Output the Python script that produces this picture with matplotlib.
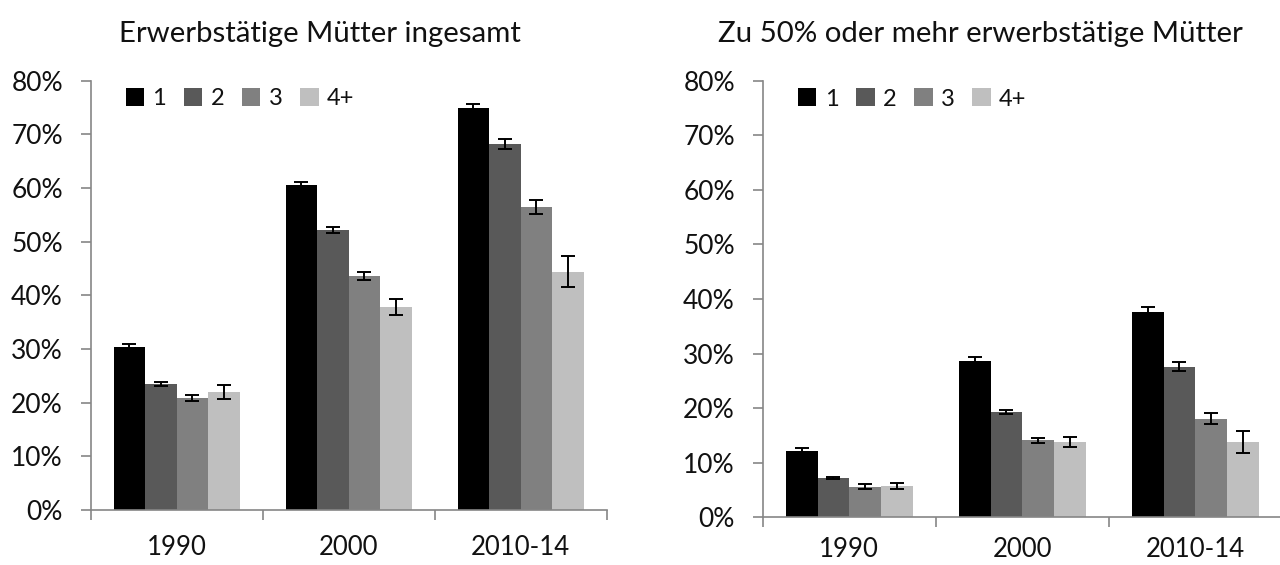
import matplotlib
matplotlib.use("Agg")
import matplotlib.pyplot as plt
from matplotlib.ticker import FuncFormatter, FixedLocator
import numpy as np

plt.rcParams['font.family'] = ['Lato', 'DejaVu Sans']

categories = ["1990", "2000", "2010-14"]
series_names = ["1", "2", "3", "4+"]
colors = ["#000000", "#595959", "#808080", "#bfbfbf"]

# Left: Erwerbstätige Mütter insgesamt (percent)
left_1 = [30.4, 60.6, 74.9]
left_2 = [23.5, 52.1, 68.2]
left_3 = [20.9, 43.6, 56.5]
left_4 = [22.0, 37.9, 44.4]
left_err_1 = [0.6, 0.6, 0.8]
left_err_2 = [0.3, 0.55, 0.9]
left_err_3 = [0.55, 0.75, 1.35]
left_err_4 = [1.35, 1.5, 2.9]

# Right: Zu 50% oder mehr erwerbstätige Mütter (percent)
right_1 = [12.2, 28.6, 37.6]
right_2 = [7.2, 19.3, 27.6]
right_3 = [5.6, 14.1, 18.1]
right_4 = [5.7, 13.8, 13.8]
right_err_1 = [0.5, 0.7, 0.9]
right_err_2 = [0.2, 0.4, 0.8]
right_err_3 = [0.45, 0.4, 1.0]
right_err_4 = [0.6, 1.0, 2.1]

left_title = "Erwerbstätige Mütter ingesamt"
right_title = "Zu 50% oder mehr erwerbstätige Mütter"

W, H = 1280, 565
fig = plt.figure(figsize=(12.8, 5.65), dpi=100)

def px_axes(x0, y_top, x1, y_bot):
    return [x0 / W, (H - y_bot) / H, (x1 - x0) / W, (y_bot - y_top) / H]

ax_l = fig.add_axes(px_axes(90.7, 80.7, 606.7, 510))
ax_r = fig.add_axes(px_axes(762.7, 80.7, 1281.7, 517.3))

axis_col = "#868686"
text_col = "#111111"

def draw(ax, vals, errs, xpad):
    n = len(vals)
    bw = 0.183
    x = np.arange(len(categories)) + 0.5
    for i, (v, e) in enumerate(zip(vals, errs)):
        off = (i - (n - 1) / 2) * bw
        ax.bar(x + off, v, width=bw, color=colors[i], label=series_names[i],
               edgecolor="none", zorder=2)
        ax.errorbar(x + off, v, yerr=e, fmt="none", ecolor="black",
                    elinewidth=1.4, capsize=5, capthick=1.4, zorder=3)
    ax.set_xlim(0, 3)
    ax.set_ylim(0, 80)
    ax.set_yticks(np.arange(0, 81, 10))
    ax.yaxis.set_major_formatter(FuncFormatter(lambda v, p: f"{int(v)}%"))
    ax.xaxis.set_major_locator(FixedLocator([0, 1, 2, 3]))
    ax.xaxis.set_minor_locator(FixedLocator([0.5, 1.5, 2.5]))
    ax.set_xticklabels([])
    ax.set_xticklabels(categories, minor=True)
    for s in ["top", "right"]:
        ax.spines[s].set_visible(False)
    for s in ["left", "bottom"]:
        ax.spines[s].set_color(axis_col)
        ax.spines[s].set_linewidth(1.2)
    ax.tick_params(axis="y", which="major", length=7, width=1.2, color=axis_col,
                   labelsize=19, labelcolor=text_col, pad=13)
    ax.tick_params(axis="x", which="major", length=7, width=1.2, color=axis_col,
                   labelbottom=False)
    ax.tick_params(axis="x", which="minor", length=0, labelsize=18.5,
                   labelcolor=text_col, pad=xpad)
    leg = ax.legend(loc="center left", bbox_to_anchor=(0.068, 0.958), ncol=4,
                    frameon=False, fontsize=17, handlelength=0.78,
                    handleheight=0.78, handletextpad=0.35, columnspacing=0.75,
                    borderpad=0, borderaxespad=0)
    for t in leg.get_texts():
        t.set_color(text_col)

draw(ax_l, [left_1, left_2, left_3, left_4],
     [left_err_1, left_err_2, left_err_3, left_err_4], 18)
draw(ax_r, [right_1, right_2, right_3, right_4],
     [right_err_1, right_err_2, right_err_3, right_err_4], 14)

fig.text(320 / W, (H - 42) / H, left_title, ha="center", va="baseline",
         fontsize=21.2, color=text_col)
fig.text(980 / W, (H - 42) / H, right_title, ha="center", va="baseline",
         fontsize=21.2, color=text_col)

fig.savefig("out.png", dpi=100)
